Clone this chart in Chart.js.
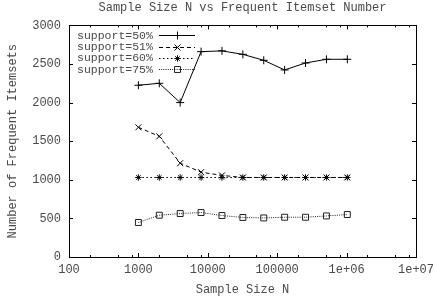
<!DOCTYPE html>
<html>
<head>
<meta charset="utf-8">
<script src="https://cdn.jsdelivr.net/npm/chart.js@4/dist/chart.umd.min.js"></script>
<style>
html,body{margin:0;padding:0;background:#fff;}
#wrap{width:436px;height:303px;}
</style>
</head>
<body>
<div id="wrap"><canvas id="c" width="436" height="303"></canvas></div>
<script>
// ---- data ----
const sampleSizes = [1000, 2000, 4000, 8000, 16000, 32000, 64000, 128000, 256000, 512000, 1024000];
const seriesLabels = ['support=50%', 'support=51%', 'support=60%', 'support=75%'];
const support50 = [2225, 2250, 2000, 2660, 2670, 2625, 2548, 2423, 2513, 2561, 2561];
const support51 = [1680, 1563, 1215, 1099, 1057, 1030, 1030, 1030, 1030, 1030, 1030];
const support60 = [1030, 1030, 1030, 1030, 1030, 1030, 1030, 1030, 1030, 1030, 1030];
const support75 = [447, 541, 563, 576, 537, 512, 506, 515, 515, 532, 550];
const xTickValues = [100, 1000, 10000, 100000, 1000000, 10000000];
const xTickLabels = ['100', '1000', '10000', '100000', '1e+06', '1e+07'];
const xMinorMultipliers = [2, 5, 8];
const yTickValues = [0, 500, 1000, 1500, 2000, 2500, 3000];
const yTickLabels = ['0', '500', '1000', '1500', '2000', '2500', '3000'];

const FONT = "'Liberation Mono', 'DejaVu Sans Mono', monospace";
const TEXT = '#4a4a4a';

function pts(ys) { return sampleSizes.map((x, i) => ({x: x, y: ys[i]})); }

const styles = [
  {dash: [], point: 'cross', r: 4, color: '#000'},
  {dash: [4, 3], point: 'crossRot', r: 4.2, color: '#000'},
  {dash: [1.5, 2.5], point: 'star', r: 3.2, color: '#000'},
  {dash: [1, 1.2], point: 'rect', r: 4.2, color: '#222'}
];
const allSeries = [support50, support51, support60, support75];

const datasets = allSeries.map((s, i) => ({
  label: seriesLabels[i],
  data: pts(s),
  borderColor: styles[i].color,
  backgroundColor: 'rgba(0,0,0,0)',
  borderWidth: 1,
  borderDash: styles[i].dash,
  pointStyle: styles[i].point,
  pointRadius: styles[i].r,
  pointHoverRadius: styles[i].r,
  pointBorderWidth: 1,
  pointBorderColor: styles[i].color,
  pointBackgroundColor: 'rgba(0,0,0,0)',
  tension: 0
}));

function drawMarker(ctx, style, r, x, y) {
  ctx.beginPath();
  if (style === 'cross' || style === 'star') {
    ctx.moveTo(x - r, y); ctx.lineTo(x + r, y);
    ctx.moveTo(x, y - r); ctx.lineTo(x, y + r);
  }
  if (style === 'crossRot' || style === 'star') {
    const d = r * Math.SQRT1_2;
    ctx.moveTo(x - d, y - d); ctx.lineTo(x + d, y + d);
    ctx.moveTo(x - d, y + d); ctx.lineTo(x + d, y - d);
  }
  if (style === 'rect') {
    const s = r * Math.SQRT1_2;
    ctx.rect(x - s, y - s, 2 * s, 2 * s);
  }
  ctx.stroke();
}

const framePlugin = {
  id: 'frame',
  afterDatasetsDraw(chart) {
    const ctx = chart.ctx, a = chart.chartArea;
    const xs = chart.scales.x, ys = chart.scales.y;
    ctx.save();
    ctx.strokeStyle = '#000';
    ctx.lineWidth = 1;
    ctx.setLineDash([]);
    ctx.strokeRect(Math.round(a.left) + 0.5, Math.round(a.top) + 0.5,
                   Math.round(a.right - a.left), Math.round(a.bottom - a.top));
    ctx.beginPath();
    for (let k = 0; k < xTickValues.length; k++) {
      const v = xTickValues[k];
      const px = Math.round(xs.getPixelForValue(v)) + 0.5;
      ctx.moveTo(px, a.bottom); ctx.lineTo(px, a.bottom - 4);
      ctx.moveTo(px, a.top); ctx.lineTo(px, a.top + 4);
      if (k < xTickValues.length - 1) {
        xMinorMultipliers.forEach(m => {
          const mx = Math.round(xs.getPixelForValue(v * m)) + 0.5;
          ctx.moveTo(mx, a.bottom); ctx.lineTo(mx, a.bottom - 2);
          ctx.moveTo(mx, a.top); ctx.lineTo(mx, a.top + 2);
        });
      }
    }
    yTickValues.forEach(v => {
      const py = Math.round(ys.getPixelForValue(v)) + 0.5;
      ctx.moveTo(a.left, py); ctx.lineTo(a.left + 4, py);
      ctx.moveTo(a.right, py); ctx.lineTo(a.right - 4, py);
    });
    ctx.stroke();
    ctx.restore();
  },
  afterDraw(chart) {
    const ctx = chart.ctx, a = chart.chartArea;
    ctx.save();
    ctx.font = '11.5px ' + FONT;
    ctx.textBaseline = 'middle';
    ctx.textAlign = 'left';
    chart.data.datasets.forEach((ds, i) => {
      const y = a.top + 10 + i * 11.2;
      ctx.fillStyle = TEXT;
      ctx.fillText(ds.label, a.left + 8, y + 0.5);
      ctx.strokeStyle = ds.borderColor;
      ctx.lineWidth = 1;
      ctx.setLineDash(ds.borderDash);
      ctx.beginPath();
      ctx.moveTo(a.left + 90, Math.round(y) + 0.5);
      ctx.lineTo(a.left + 126, Math.round(y) + 0.5);
      ctx.stroke();
      ctx.setLineDash([]);
      drawMarker(ctx, ds.pointStyle, ds.pointRadius, a.left + 108.5, Math.round(y) + 0.5);
    });
    ctx.restore();
  }
};

new Chart(document.getElementById('c'), {
  type: 'line',
  data: {datasets: datasets},
  plugins: [framePlugin],
  options: {
    responsive: false,
    animation: false,
    devicePixelRatio: 1,
    layout: {padding: {left: 0, right: 0, top: 0, bottom: 0}},
    plugins: {
      legend: {display: false},
      tooltip: {enabled: false},
      title: {
        display: true,
        text: 'Sample Size N vs Frequent Itemset Number',
        fullSize: false,
        color: TEXT,
        font: {family: FONT, size: 12, weight: 'normal'},
        padding: {top: 1, bottom: 10}
      }
    },
    scales: {
      x: {
        type: 'logarithmic',
        min: 100,
        max: 10000000,
        afterBuildTicks(scale) { scale.ticks = xTickValues.map(v => ({value: v})); },
        afterFit(scale) { scale.height = 46; scale.paddingRight = 20; scale.paddingLeft = 0; },
        grid: {display: false, drawTicks: false},
        border: {display: false},
        ticks: {
          autoSkip: false,
          maxRotation: 0,
          padding: 6,
          color: TEXT,
          font: {family: FONT, size: 12},
          callback(v) { const i = xTickValues.indexOf(v); return i >= 0 ? xTickLabels[i] : ''; }
        },
        title: {
          display: true,
          text: 'Sample Size N',
          color: TEXT,
          font: {family: FONT, size: 12},
          padding: {top: 0, bottom: 6}
        }
      },
      y: {
        type: 'linear',
        min: 0,
        max: 3000,
        afterBuildTicks(scale) { scale.ticks = yTickValues.map(v => ({value: v})); },
        afterFit(scale) { scale.width = 69; },
        grid: {display: false, drawTicks: false},
        border: {display: false},
        ticks: {
          padding: 8,
          color: TEXT,
          font: {family: FONT, size: 12},
          callback(v) { const i = yTickValues.indexOf(v); return i >= 0 ? yTickLabels[i] : ''; }
        },
        title: {
          display: true,
          text: 'Number of Frequent Itemsets',
          color: TEXT,
          font: {family: FONT, size: 12},
          padding: {top: 6, bottom: 0}
        }
      }
    }
  }
});
</script>
</body>
</html>
